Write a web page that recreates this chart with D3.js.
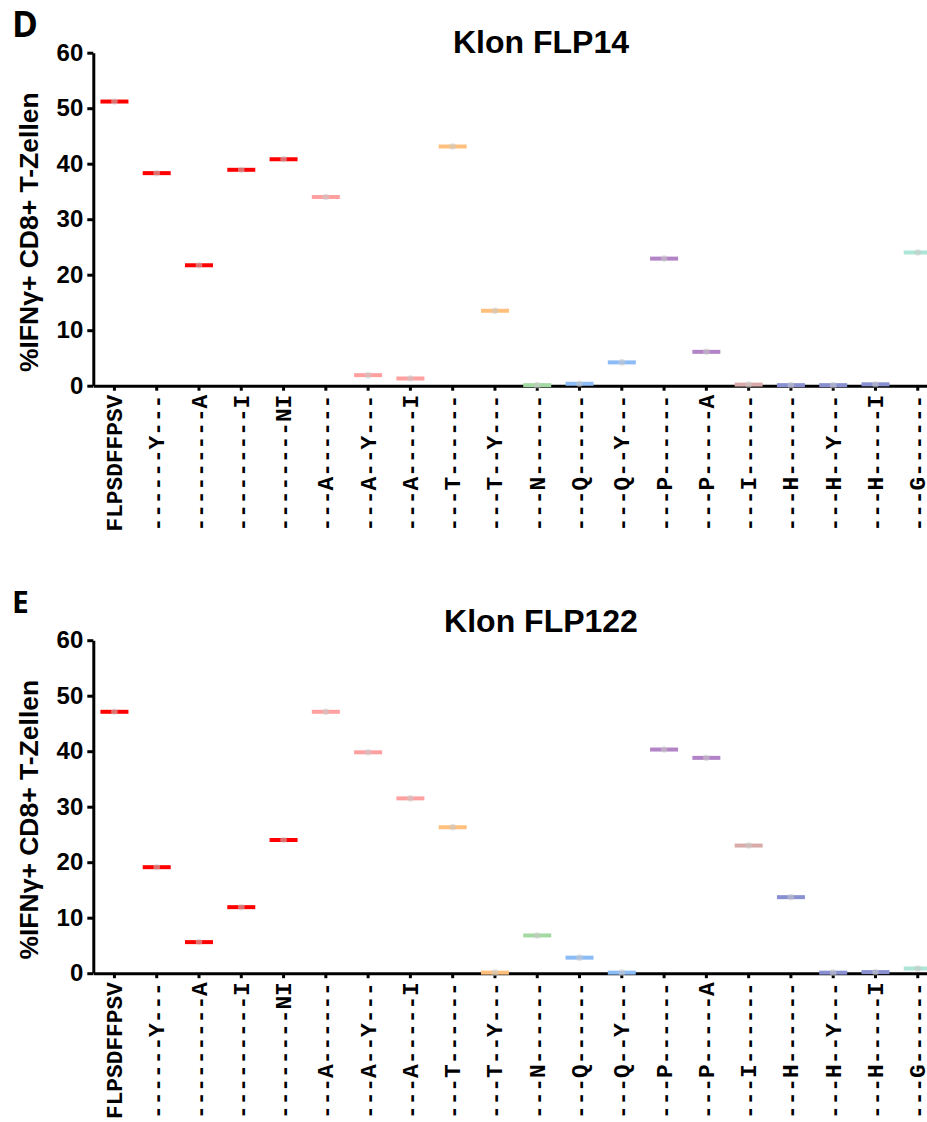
<!DOCTYPE html>
<html>
<head>
<meta charset="utf-8">
<script src="https://cdn.jsdelivr.net/npm/d3@7"></script>
<style>
  html, body { margin: 0; padding: 0; background: #fff; }
  svg { display: block; }
</style>
</head>
<body>
<svg id="chart" width="927" height="1122"></svg>
<script>
// Peptide variants: position 1..10 of FLPSDFFPSV, "-" = unchanged residue
const peptides = [
  "FLPSDFFPSV", "------Y---", "---------A", "---------I", "--------NI",
  "---A------", "---A--Y---", "---A-----I", "---T------", "---T--Y---",
  "---N------", "---Q------", "---Q--Y---", "---P------", "---P-----A",
  "---I------", "---H------", "---H--Y---", "---H-----I", "---G------"
];

// Substitution group at position 4 (wild type / position-4 residue)
const groups = [
  "wt", "wt", "wt", "wt", "wt",
  "A", "A", "A", "T", "T",
  "N", "Q", "Q", "P", "P",
  "I", "H", "H", "H", "G"
];

const groupNames = ["wt", "A", "T", "N", "Q", "P", "I", "H", "G"];
const groupColors = ["#ff0000", "#ffa0a0", "#ffc07e", "#a3d9a3", "#8cbcf6", "#b283c6", "#d9aaaa", "#8890d2", "#ade6d6"];

// % IFN-gamma+ CD8+ T cells per peptide
const flp14 = [51.2, 38.3, 21.7, 38.9, 40.8, 34.0, 1.9, 1.3, 43.1, 13.5,
               0.1, 0.35, 4.2, 22.9, 6.1, 0.2, 0.1, 0.1, 0.25, 24.0];
const flp122 = [47.1, 19.1, 5.6, 11.9, 24.0, 47.1, 39.8, 31.5, 26.3, 0.1,
                6.8, 2.8, 0.1, 40.3, 38.8, 23.0, 13.7, 0.1, 0.2, 0.85];

const yTicks = [0, 10, 20, 30, 40, 50, 60];

const panels = [
  { letter: "D", letterSize: 35, letterY: 36.5, title: "Klon FLP14", titleY: 53, values: flp14, dy: 0 },
  { letter: "E", letterSize: 30, letterY: 612.5 - 587.5, title: "Klon FLP122", titleY: 632 - 587.5, values: flp122, dy: 587.5 }
];

const svg = d3.select("#chart");
const color = d3.scaleOrdinal(groupNames, groupColors);

const x = d3.scaleBand()
  .domain(d3.range(peptides.length))
  .range([93.3, 93.3 + 20 * 42.28])
  .padding(0);

const y = d3.scaleLinear().domain([0, 60]).range([385.7, 52.7]);

const sansBold = "Arial, 'Liberation Sans', Helvetica, sans-serif";

panels.forEach(p => {
  const g = svg.append("g").attr("transform", `translate(0,${p.dy})`);

  // panel letter
  g.append("text")
    .attr("x", 12)
    .attr("y", p.letterY)
    .attr("font-family", "'Open Sans', 'Noto Sans', sans-serif")
    .attr("font-weight", 700)
    .attr("font-size", p.letterSize)
    .text(p.letter);

  // title
  g.append("text")
    .attr("x", 541)
    .attr("y", p.titleY)
    .attr("text-anchor", "middle")
    .attr("font-family", sansBold)
    .attr("font-weight", 700)
    .attr("font-size", 32)
    .text(p.title);

  // y-axis title
  g.append("text")
    .attr("transform", `translate(38,${(y(0) + y(60)) / 2 + 13}) rotate(-90)`)
    .attr("text-anchor", "middle")
    .attr("font-family", sansBold)
    .attr("font-weight", 700)
    .attr("font-size", 26.5)
    .text("%IFNγ+ CD8+ T-Zellen");

  // y axis
  const yAxis = g.append("g")
    .attr("transform", `translate(${x.range()[0]},0)`)
    .call(d3.axisLeft(y).tickValues(yTicks).tickSize(6).tickSizeOuter(0).tickPadding(4));
  yAxis.select(".domain").attr("stroke", "#000").attr("stroke-width", 3);
  yAxis.selectAll(".tick line").attr("stroke", "#000").attr("stroke-width", 3);
  yAxis.selectAll(".tick text")
    .attr("font-family", sansBold)
    .attr("font-weight", 700)
    .attr("font-size", 24)
    .attr("fill", "#000");

  // x axis with rotated peptide labels
  const xAxis = g.append("g")
    .attr("transform", `translate(0,${y(0)})`)
    .call(d3.axisBottom(x).tickSize(5).tickSizeOuter(0).tickFormat(i => peptides[i]));
  xAxis.select(".domain").attr("stroke", "#000").attr("stroke-width", 3);
  xAxis.selectAll(".tick line").attr("stroke", "#000").attr("stroke-width", 3);
  xAxis.selectAll(".tick text")
    .attr("transform", "rotate(-90)")
    .attr("x", -9)
    .attr("y", 0)
    .attr("dy", "0.33em")
    .attr("text-anchor", "end")
    .attr("font-family", "'Courier New', 'Liberation Mono', monospace")
    .attr("font-weight", 700)
    .attr("font-size", 22.8)
    .attr("fill", "#000");

  // mean lines with data point
  const marks = g.append("g")
    .selectAll("g")
    .data(p.values.map((v, i) => ({ v, i })))
    .join("g")
    .attr("transform", d => `translate(${x(d.i) + x.bandwidth() / 2},${y(d.v)})`);

  marks.append("line")
    .attr("x1", -14).attr("x2", 14)
    .attr("stroke", d => color(groups[d.i]))
    .attr("stroke-width", 4);

  marks.append("circle")
    .attr("r", 3.3)
    .attr("fill", "#c8c8c8")
    .attr("fill-opacity", 0.55);
});
</script>
</body>
</html>
